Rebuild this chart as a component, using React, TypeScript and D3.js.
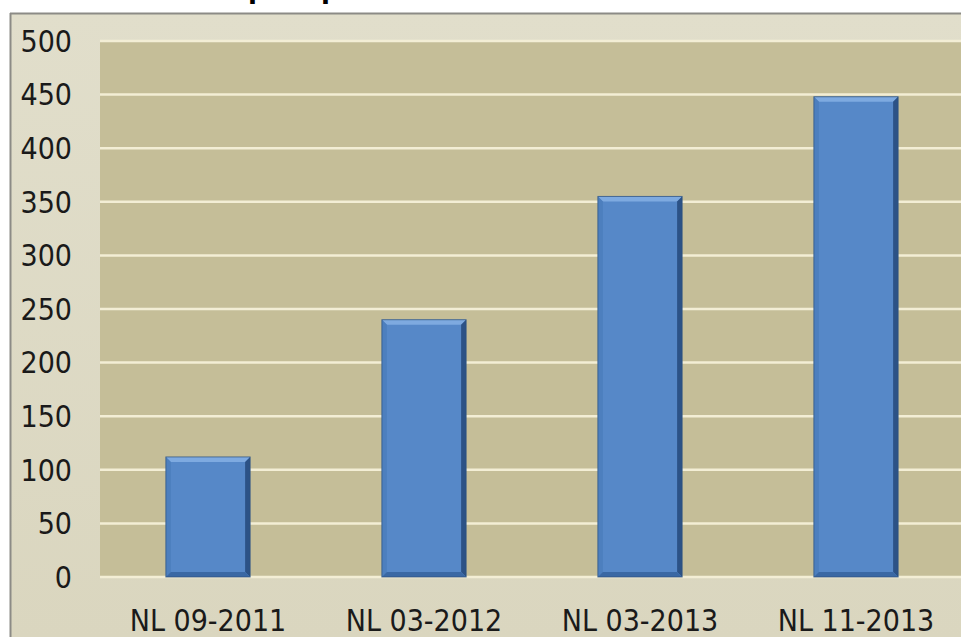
import React from "react";
import * as d3 from "d3";

const categories = ["NL 09-2011", "NL 03-2012", "NL 03-2013", "NL 11-2013"];
const values = [112, 240, 355, 448];
const yTicks = [0, 50, 100, 150, 200, 250, 300, 350, 400, 450, 500];

const W = 961;
const H = 637;

export default function App() {
  const x = d3
    .scaleBand<string>()
    .domain(categories)
    .range([100, 964])
    .paddingInner(0.61)
    .paddingOuter(0.305);
  const y = d3.scaleLinear().domain([0, 500]).range([577, 41]);
  const b = 5;
  const font = "'DejaVu Sans Condensed', 'DejaVu Sans', Tahoma, sans-serif";

  return (
    <svg
      width={W}
      height={H}
      style={{ position: "absolute", left: 0, top: 0, background: "#ffffff" }}
    >
      <defs>
        <linearGradient id="outerBg" x1="0" y1="0" x2="0" y2="1">
          <stop offset="0" stopColor="#e1decb" />
          <stop offset="1" stopColor="#dad6bf" />
        </linearGradient>
      </defs>
      {/* cropped title descenders */}
      <text
        y={-2}
        fontFamily="'DejaVu Sans', Tahoma, sans-serif"
        fontWeight="bold"
        fontSize={26}
        fill="#000"
      >
        <tspan x={248}>p</tspan>
        <tspan x={321}>p</tspan>
      </text>
      <rect x={10} y={13} width={W - 10} height={H - 13} fill="url(#outerBg)" />
      <line x1={10} x2={W} y1={13.5} y2={13.5} stroke="#8c8b86" strokeWidth={2} />
      <line x1={10.5} x2={10.5} y1={13} y2={H} stroke="#8c8b86" strokeWidth={2} />
      <rect x={100} y={y(500)} width={W - 100} height={y(0) - y(500)} fill="#c5be98" />
      {yTicks.map((t) => (
        <line
          key={"g" + t}
          x1={100}
          x2={W}
          y1={y(t)}
          y2={y(t)}
          stroke="#f3eed5"
          strokeWidth={2.5}
        />
      ))}
      {yTicks.map((t) => (
        <text
          key={"t" + t}
          x={72}
          y={y(t)}
          dy="0.36em"
          textAnchor="end"
          fontFamily={font}
          fontSize={30}
          fill="#1a1a1a"
        >
          {t}
        </text>
      ))}
      {categories.map((c, i) => {
        const x0 = x(c)!;
        const x1 = x0 + x.bandwidth();
        const y0 = y(values[i]);
        const y1 = y(0);
        return (
          <g key={c}>
            <rect x={x0} y={y0} width={x1 - x0} height={y1 - y0} fill="#5688c8" />
            <polygon
              points={`${x0},${y0} ${x1},${y0} ${x1 - b},${y0 + b} ${x0 + b},${y0 + b}`}
              fill="#7eaae0"
            />
            <polygon
              points={`${x0},${y0} ${x0 + b},${y0 + b} ${x0 + b},${y1 - b} ${x0},${y1}`}
              fill="#4d7fbe"
            />
            <polygon
              points={`${x1},${y0} ${x1},${y1} ${x1 - b},${y1 - b} ${x1 - b},${y0 + b}`}
              fill="#2c5286"
            />
            <polygon
              points={`${x0},${y1} ${x1},${y1} ${x1 - b},${y1 - b} ${x0 + b},${y1 - b}`}
              fill="#3a68a4"
            />
            <rect
              x={x0}
              y={y0}
              width={x1 - x0}
              height={y1 - y0}
              fill="none"
              stroke="#2b4f7e"
              strokeWidth={1}
              strokeOpacity={0.7}
            />
          </g>
        );
      })}
      {categories.map((c) => (
        <text
          key={"x" + c}
          x={x(c)! + x.bandwidth() / 2}
          y={631}
          textAnchor="middle"
          fontFamily={font}
          fontSize={30}
          fill="#1a1a1a"
        >
          {c}
        </text>
      ))}
    </svg>
  );
}
